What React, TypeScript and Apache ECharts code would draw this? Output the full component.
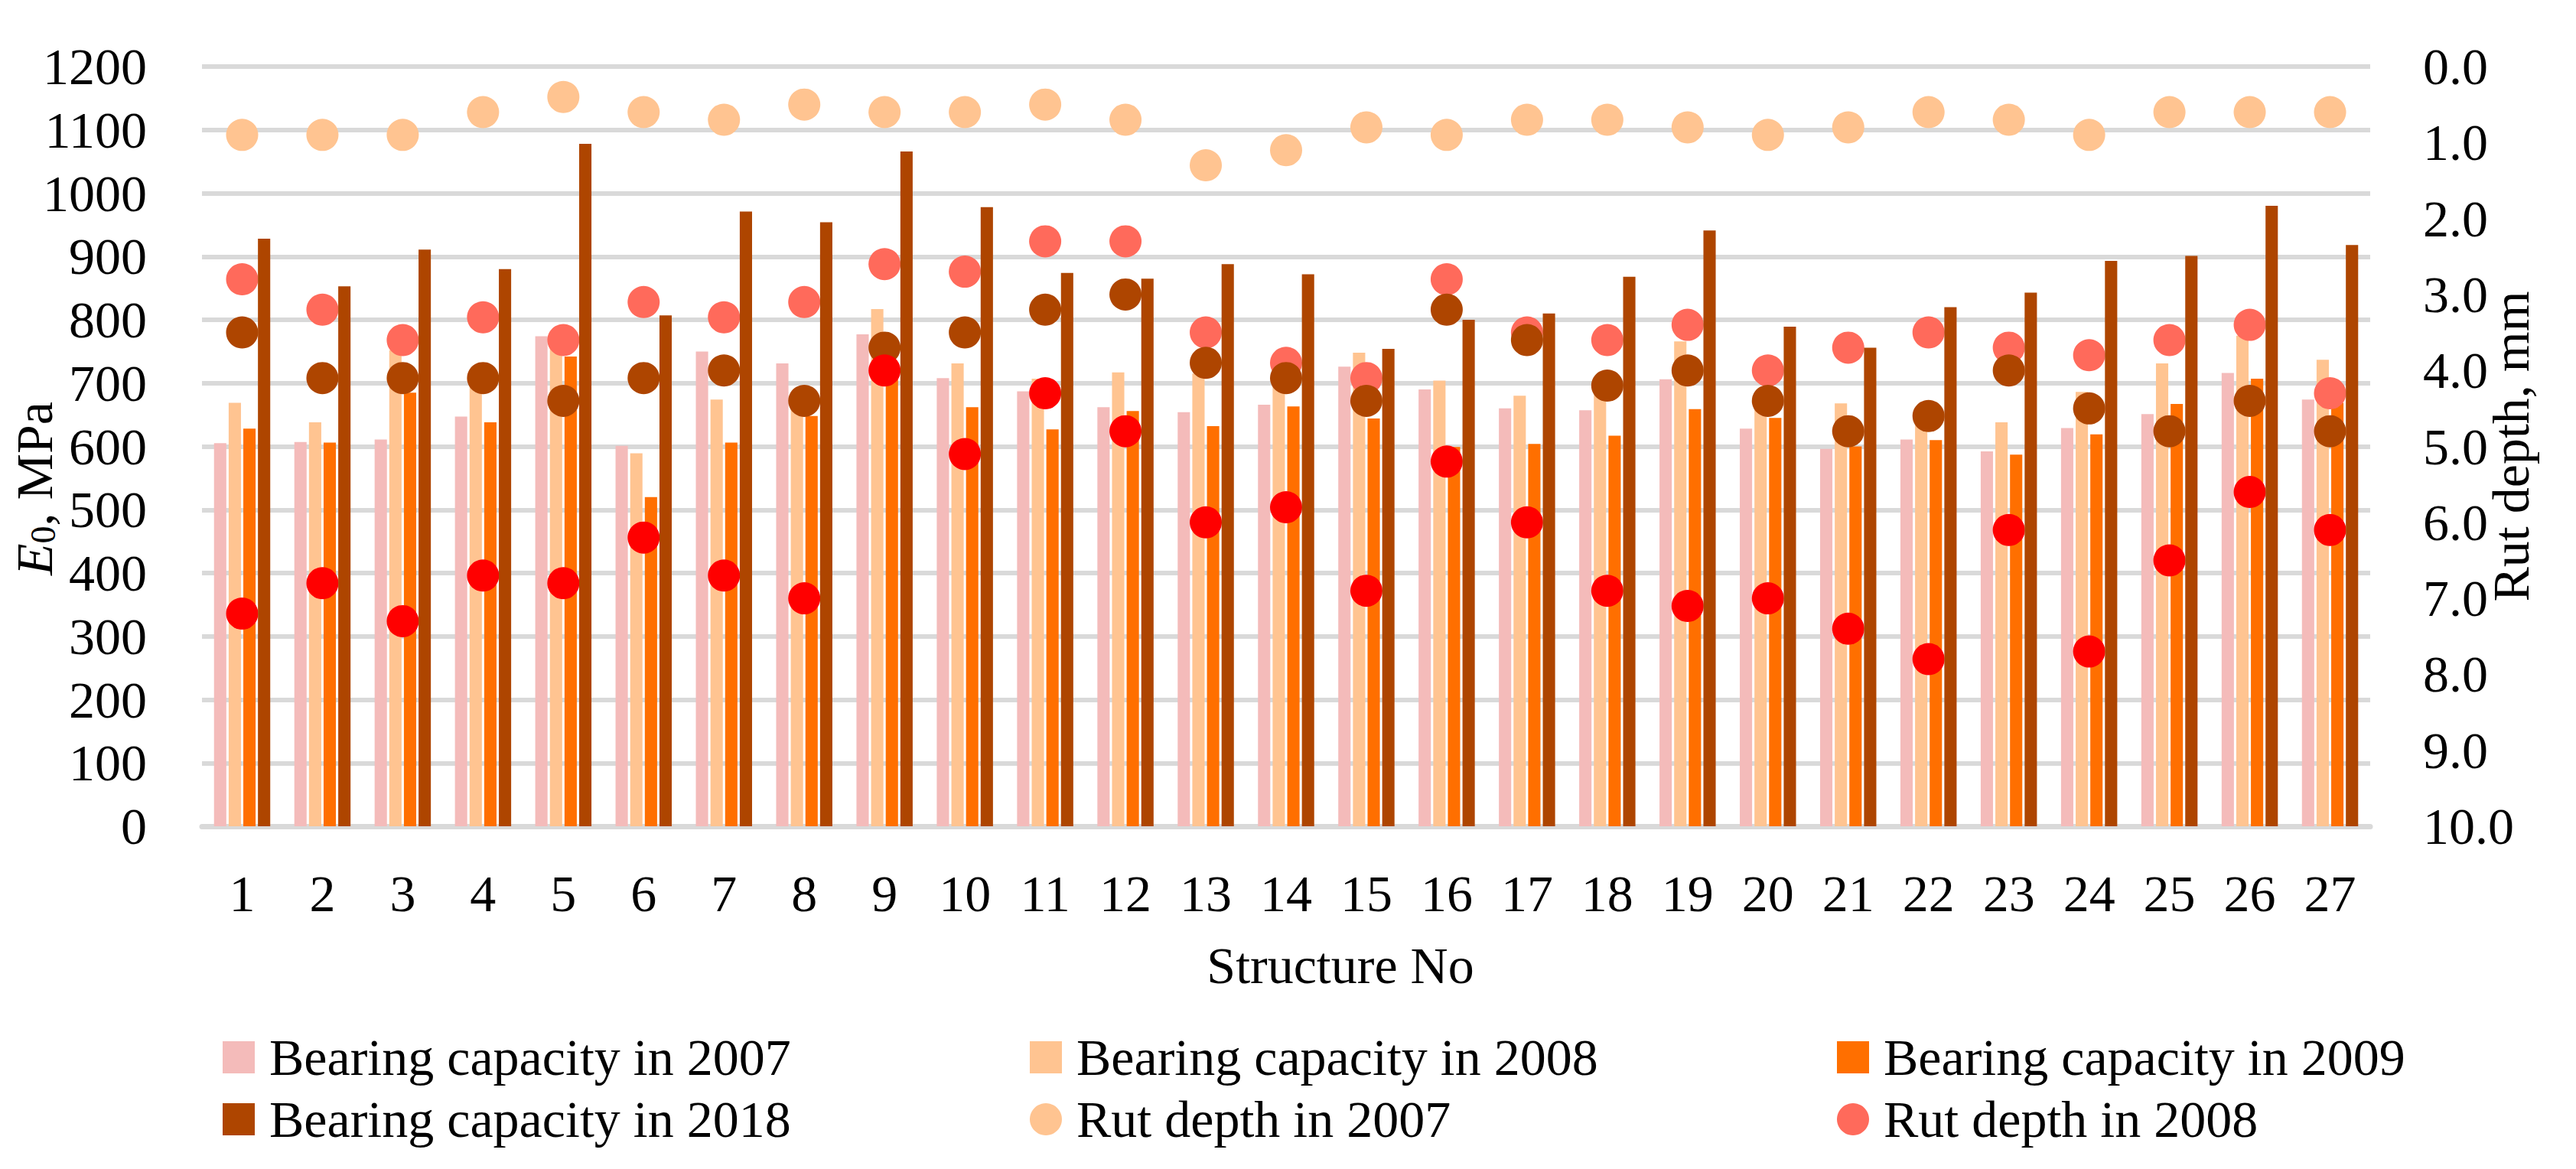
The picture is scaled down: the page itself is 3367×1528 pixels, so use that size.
import React, { useEffect, useRef } from 'react';
import * as echarts from 'echarts';

const structures = ['1', '2', '3', '4', '5', '6', '7', '8', '9', '10', '11', '12', '13', '14', '15', '16', '17', '18', '19', '20', '21', '22', '23', '24', '25', '26', '27'];

// bearing capacity E0, MPa
const bearing2007 = [605, 607, 611, 647, 774, 601, 750, 731, 777, 708, 687, 662, 654, 666, 726, 690, 660, 657, 706, 628, 596, 611, 592, 629, 651, 716, 674];
const bearing2008 = [669, 638, 752, 705, 755, 589, 674, 670, 817, 731, 707, 717, 715, 700, 748, 704, 680, 685, 766, 670, 668, 650, 638, 686, 731, 775, 737];
const bearing2009 = [628, 606, 685, 638, 742, 520, 606, 648, 710, 662, 627, 656, 632, 663, 644, 599, 604, 617, 659, 645, 600, 610, 587, 619, 667, 707, 669];
const bearing2018 = [928, 853, 911, 880, 1078, 807, 971, 954, 1066, 978, 874, 865, 888, 872, 754, 800, 810, 868, 941, 789, 756, 820, 843, 893, 901, 980, 918];

// rut depth, mm
const rut2007 = [0.9, 0.9, 0.9, 0.6, 0.4, 0.6, 0.7, 0.5, 0.6, 0.6, 0.5, 0.7, 1.3, 1.1, 0.8, 0.9, 0.7, 0.7, 0.8, 0.9, 0.8, 0.6, 0.7, 0.9, 0.6, 0.6, 0.6];
const rut2008 = [2.8, 3.2, 3.6, 3.3, 3.6, 3.1, 3.3, 3.1, 2.6, 2.7, 2.3, 2.3, 3.5, 3.9, 4.1, 2.8, 3.5, 3.6, 3.4, 4.0, 3.7, 3.5, 3.7, 3.8, 3.6, 3.4, 4.3];
const rut2009 = [3.5, 4.1, 4.1, 4.1, 4.4, 4.1, 4.0, 4.4, 3.7, 3.5, 3.2, 3.0, 3.9, 4.1, 4.4, 3.2, 3.6, 4.2, 4.0, 4.4, 4.8, 4.6, 4.0, 4.5, 4.8, 4.4, 4.8];
const rut2018 = [7.2, 6.8, 7.3, 6.7, 6.8, 6.2, 6.7, 7.0, 4.0, 5.1, 4.3, 4.8, 6.0, 5.8, 6.9, 5.2, 6.0, 6.9, 7.1, 7.0, 7.4, 7.8, 6.1, 7.7, 6.5, 5.6, 6.1];

const FONT = '"Liberation Serif", "Times New Roman", serif';
const GRID_COLOR = '#D9D9D9';

const legendColumn = (left: number, names: string[]) => ({
  orient: 'vertical',
  left,
  top: 1343,
  itemWidth: 42,
  itemHeight: 42,
  itemGap: 13,
  selectedMode: false,
  data: names.map((n) => ({ name: n, icon: n.startsWith('Bearing') ? 'rect' : 'circle' })),
  textStyle: { fontFamily: FONT, fontSize: 68, lineHeight: 68, color: '#000', padding: [0, 0, 0, 14] },
});

const App: React.FC = () => {
  const chartRef = useRef<HTMLDivElement>(null);

  useEffect(() => {
    document.body.style.margin = '0';
    if (chartRef.current) {
      const chart = echarts.init(chartRef.current, undefined, { renderer: 'svg' });

      const barSeries = (name: string, data: number[], color: string, z: number) => ({
        name,
        type: 'bar',
        data,
        z,
        barGap: '19%',
        barCategoryGap: '30%',
        itemStyle: { color },
      });

      const dotSeries = (name: string, data: number[], color: string) => ({
        name,
        type: 'scatter',
        yAxisIndex: 1,
        data,
        z: 2,
        symbol: 'circle',
        symbolSize: 42,
        itemStyle: { color, opacity: 1 },
      });

      const options = {
        animation: false,
        textStyle: { fontFamily: FONT },
        grid: { left: 264, right: 269, top: 87, bottom: 448, containLabel: false, outerBoundsMode: 'none' },
        legend: [
          legendColumn(286, ['Bearing capacity in 2007', 'Bearing capacity in 2018']),
          legendColumn(1341, ['Bearing capacity in 2008', 'Rut depth in 2007']),
          legendColumn(2396, ['Bearing capacity in 2009', 'Rut depth in 2008']),
        ],
        xAxis: {
          type: 'category',
          data: structures,
          name: 'Structure No',
          nameLocation: 'middle',
          nameGap: 148,
          nameMoveOverlap: false,
          nameTextStyle: { fontFamily: FONT, fontSize: 68, lineHeight: 68, color: '#000', padding: [0, 0, 0, 142] },
          axisLine: { lineStyle: { color: GRID_COLOR, width: 7 } },
          axisTick: { show: false },
          axisLabel: { fontFamily: FONT, fontSize: 68, lineHeight: 68, color: '#000', margin: 54, interval: 0 },
        },
        yAxis: [
          {
            type: 'value',
            min: 0,
            max: 1200,
            interval: 100,
            name: '{i|E}{s|0}, MPa',
            nameLocation: 'middle',
            nameGap: 185,
            nameMoveOverlap: false,
            nameTextStyle: {
              fontFamily: FONT,
              fontSize: 68,
              lineHeight: 68,
              color: '#000',
              padding: [0, 110, 0, 0],
              rich: {
                i: { fontFamily: FONT, fontSize: 68, lineHeight: 68, fontStyle: 'italic', color: '#000' },
                s: { fontFamily: FONT, fontSize: 46, lineHeight: 46, verticalAlign: 'bottom', color: '#000' },
              },
            },
            axisLine: { show: false },
            axisTick: { show: false },
            axisLabel: {
              fontFamily: FONT,
              fontSize: 68,
              color: '#000',
              margin: 72,
              formatter: (v: number) => String(v),
            },
            splitLine: { lineStyle: { color: GRID_COLOR, width: 6 } },
          },
          {
            type: 'value',
            min: 0,
            max: 10,
            interval: 1,
            inverse: true,
            position: 'right',
            name: 'Rut depth, mm',
            nameLocation: 'middle',
            nameGap: 150,
            nameMoveOverlap: false,
            nameTextStyle: { fontFamily: FONT, fontSize: 68, lineHeight: 68, color: '#000' },
            axisLine: { show: false },
            axisTick: { show: false },
            axisLabel: {
              fontFamily: FONT,
              fontSize: 68,
              color: '#000',
              margin: 69,
              formatter: (v: number) => v.toFixed(1),
            },
            splitLine: { show: false },
          },
        ],
        series: [
          barSeries('Bearing capacity in 2007', bearing2007, '#F4BBBA', 1),
          barSeries('Bearing capacity in 2008', bearing2008, '#FFC491', 1),
          barSeries('Bearing capacity in 2009', bearing2009, '#FF6F00', 1),
          barSeries('Bearing capacity in 2018', bearing2018, '#AE4500', 3),
          dotSeries('Rut depth in 2007', rut2007, '#FFC491'),
          dotSeries('Rut depth in 2008', rut2008, '#FF6A5B'),
          dotSeries('Rut depth in 2009', rut2009, '#AE4500'),
          dotSeries('Rut depth in 2018', rut2018, '#FF0000'),
        ],
      };

      chart.setOption(options as any);
      return () => chart.dispose();
    }
    return undefined;
  }, []);

  return <div ref={chartRef} style={{ width: '3367px', height: '1528px' }} />;
};

export default App;
